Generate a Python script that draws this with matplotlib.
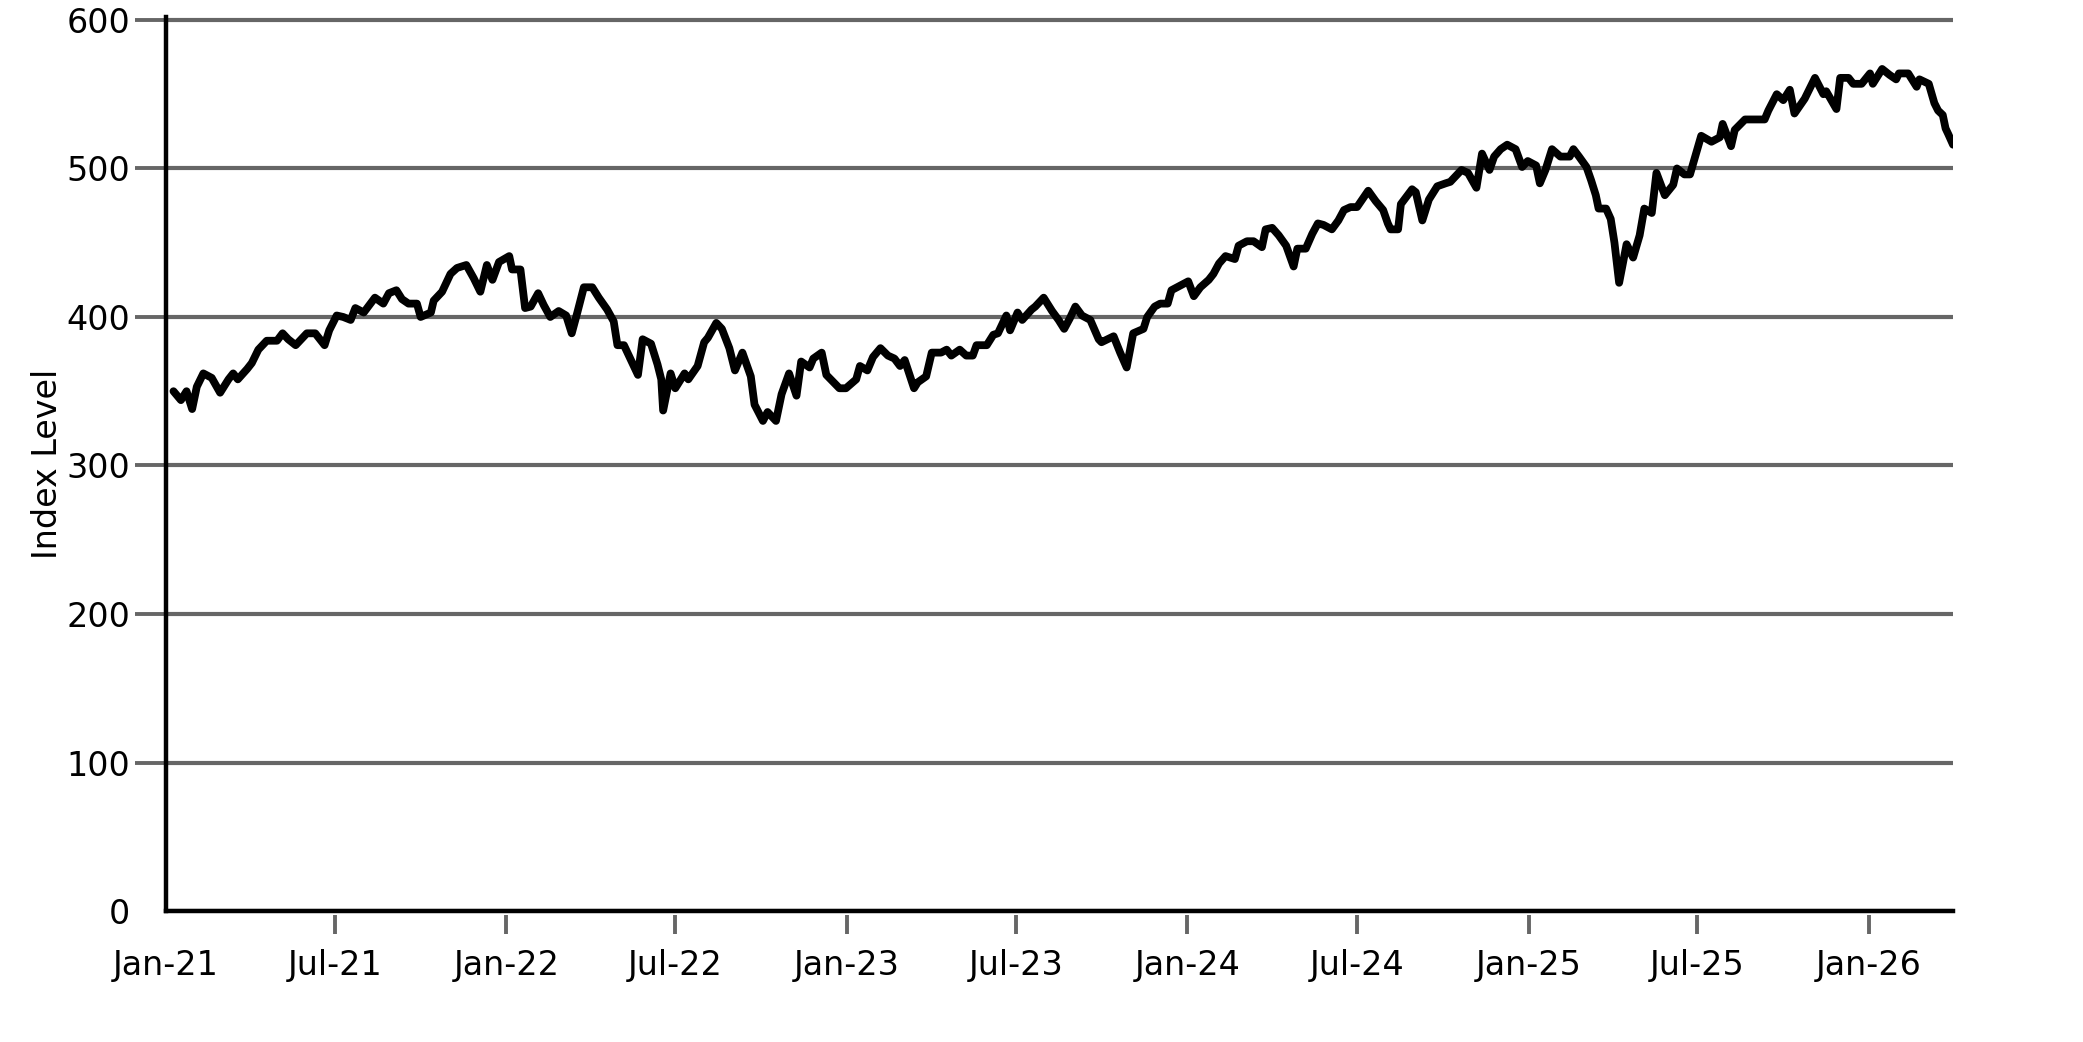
import matplotlib
matplotlib.use("Agg")
import matplotlib.pyplot as plt
import matplotlib.dates as mdates
import numpy as np
import pandas as pd

# days after 2021-01-01 for each turning point
days = [8, 16, 22, 28, 33, 40, 49, 58, 67, 72, 77, 87, 92, 99, 108, 119, 125, 131, 139, 151,
        160, 170, 175, 183, 190, 198, 203, 212, 224, 233, 239, 247, 253, 260, 269, 273, 284, 287, 296,
        305, 312, 322, 330, 337, 344, 350, 357, 368, 371, 380, 385, 391, 399, 405, 412, 421, 429,
        435, 441, 448, 457, 464, 473, 480, 484, 491, 500, 506, 511, 520, 527, 531, 533, 541, 546,
        556, 560, 570, 577, 581, 590, 596, 604, 610, 618,
        627, 631, 640, 645, 654, 660, 668, 676, 681, 690, 694, 703, 708, 722, 729, 740, 744, 752,
        758, 766, 774, 781, 787, 792, 802, 806, 815, 821, 831, 837, 842, 851, 858, 865, 869, 880,
        887, 892, 901, 905, 913, 918, 928, 932,
        941, 950, 957, 963, 969, 975, 982, 991, 1000, 1003, 1016, 1023, 1030, 1037, 1048, 1052,
        1060, 1066, 1074, 1078, 1087, 1096, 1102, 1109, 1118, 1123, 1129, 1136, 1146, 1150, 1159,
        1166, 1175, 1179, 1186, 1193, 1201, 1209, 1213, 1222, 1229, 1235, 1241,
        1250, 1257, 1263, 1270, 1277, 1289, 1297, 1305, 1310, 1313, 1321, 1324, 1336, 1340, 1347,
        1354, 1363, 1372, 1377, 1389, 1396, 1405, 1411, 1419, 1424, 1431, 1438, 1447, 1454, 1460,
        1469, 1473, 1479, 1486, 1495, 1505, 1509, 1515, 1523, 1528, 1533, 1536, 1544, 1549, 1553,
        1558, 1566, 1573, 1580, 1585, 1593, 1598, 1607, 1616, 1620, 1628, 1634, 1646, 1657, 1666,
        1669, 1678, 1682, 1693, 1714, 1718, 1727, 1734, 1741, 1746, 1757, 1768, 1777, 1780, 1791,
        1795, 1804, 1809, 1818, 1827, 1830, 1840, 1848, 1855, 1858, 1868, 1877, 1880, 1890, 1896,
        1900, 1905, 1908, 1911, 1916]

index_level = [350, 344, 350, 338, 353, 362, 359, 349, 358, 362, 358, 365, 369, 378, 384, 384, 389, 385, 381, 389,
               389, 381, 391, 401, 400, 398, 406, 403, 413, 409, 416, 418, 412, 409, 409, 400, 403, 411, 417,
               429, 433, 435, 426, 417, 435, 425, 437, 441, 432, 432, 406, 407, 416, 408, 400, 404, 401,
               389, 403, 420, 420, 413, 405, 397, 381, 381, 369, 361, 385, 382, 368, 358, 337, 362, 352,
               362, 358, 367, 383, 386, 396, 392, 379, 364, 376,
               360, 341, 330, 336, 330, 348, 362, 347, 370, 366, 372, 376, 361, 352, 352, 358, 367, 364,
               373, 379, 374, 372, 367, 371, 352, 356, 360, 376, 376, 378, 374, 378, 374, 374, 381, 381,
               388, 389, 401, 391, 403, 398, 405, 407,
               413, 404, 398, 392, 399, 407, 401, 398, 385, 383, 387, 376, 366, 389, 392, 400,
               407, 409, 409, 418, 421, 424, 414, 420, 425, 429, 436, 441, 439, 448, 451,
               451, 447, 459, 460, 455, 448, 434, 446, 446, 456, 463, 462,
               459, 465, 472, 474, 474, 485, 478, 472, 463, 459, 459, 476, 486, 484, 465,
               479, 488, 490, 491, 499, 497, 487, 510, 499, 508, 513, 516, 513, 501, 505,
               502, 490, 499, 513, 508, 508, 513, 508, 501, 492, 482, 473, 473, 466, 450,
               423, 449, 440, 455, 473, 470, 497, 482, 489, 500, 496, 496, 522, 518, 521,
               530, 515, 526, 533, 533, 539, 550, 546, 553, 537, 547, 561, 550, 552, 540,
               561, 561, 557, 557, 564, 557, 567, 563, 560, 564, 564, 555, 560, 557, 544,
               539, 536, 527, 523, 516]

y_ticks = [0, 100, 200, 300, 400, 500, 600]

dates = pd.Timestamp("2021-01-01") + pd.to_timedelta(days, unit="D")

plt.rcParams["font.family"] = "DejaVu Sans"
plt.rcParams["font.size"] = 12

fig = plt.figure(figsize=(10.415, 5.21), dpi=200)
ax = fig.add_axes([0.0797, 0.1257, 0.8579, 0.8580])

ax.plot(dates, index_level, color="black", lw=2.8, zorder=3,
        solid_joinstyle="round", solid_capstyle="round")

ax.set_xlim(pd.Timestamp("2021-01-01"), dates[-1])
ax.set_ylim(0, 602)
ax.set_yticks(y_ticks)
ax.yaxis.grid(True, color="#666666", lw=1.5, zorder=1)
ax.set_axisbelow(True)

ax.xaxis.set_major_locator(mdates.MonthLocator(bymonth=[1, 7]))
ax.xaxis.set_major_formatter(mdates.DateFormatter("%b-%y"))

# spines pushed out a little, axis lines drawn by hand so ticks sit off the line
for s in ["top", "right"]:
    ax.spines[s].set_visible(False)
ax.spines["bottom"].set_position(("outward", 1.6))
ax.spines["left"].set_position(("outward", 0.8))
ax.spines["bottom"].set_color("none")
ax.spines["left"].set_color("none")
ax.axhline(0, color="black", lw=1.6, clip_on=False, zorder=4)
ax.axvline(pd.Timestamp("2021-01-01"), color="black", lw=1.6, clip_on=False, zorder=4)

ax.tick_params(axis="x", length=7, width=1.4, color="#666666", pad=5)
ax.tick_params(axis="y", length=10.5, width=1.4, color="#666666", pad=1.5)

fig.canvas.draw()
ax.xaxis.get_major_ticks()[0].tick1line.set_visible(False)
ax.yaxis.get_major_ticks()[0].tick1line.set_visible(False)

ax.set_ylabel("Index Level")
ax.yaxis.set_label_coords(-0.057, 0.5)

fig.savefig("out.png", dpi=200)
